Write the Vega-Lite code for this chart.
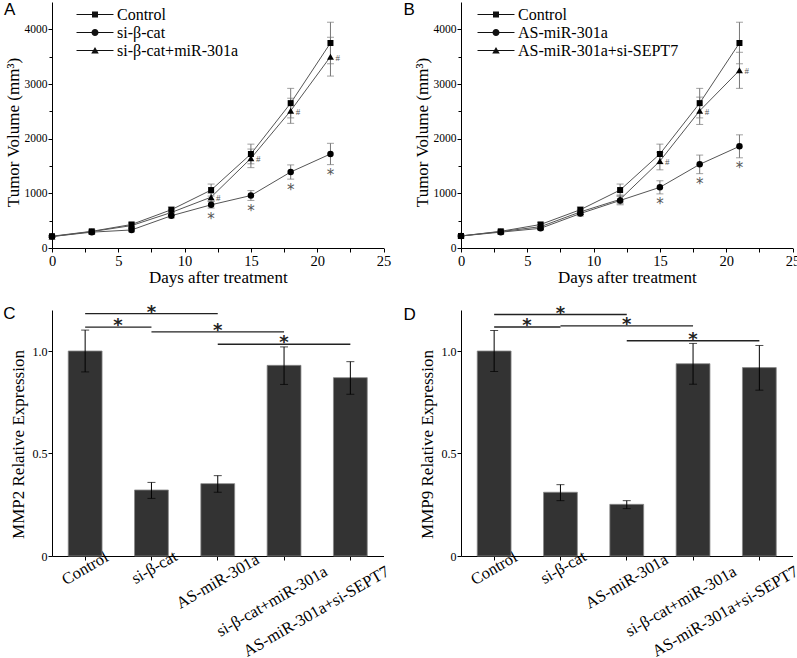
{
  "$schema": "https://vega.github.io/schema/vega-lite/v6.json",
  "padding": {"left": 3, "top": 1, "right": 0, "bottom": 0},
  "background": "white",
  "bounds": "flush",
  "columns": 2,
  "spacing": {"row": 62, "column": 77},
  "resolve": {"scale": {"shape": "independent"}, "legend": {"shape": "independent"}},
  "datasets": {
    "lineA": [
      {"day": 0, "grp": "Control", "v": 215, "lo": 195, "hi": 235},
      {"day": 3, "grp": "Control", "v": 305, "lo": 280, "hi": 330},
      {"day": 6, "grp": "Control", "v": 430, "lo": 390, "hi": 470},
      {"day": 9, "grp": "Control", "v": 700, "lo": 650, "hi": 750},
      {"day": 12, "grp": "Control", "v": 1060, "lo": 950, "hi": 1170},
      {"day": 15, "grp": "Control", "v": 1720, "lo": 1540, "hi": 1900},
      {"day": 18, "grp": "Control", "v": 2650, "lo": 2380, "hi": 2920},
      {"day": 21, "grp": "Control", "v": 3750, "lo": 3370, "hi": 4130},
      {"day": 0, "grp": "si-β-cat", "v": 210, "lo": 195, "hi": 225},
      {"day": 3, "grp": "si-β-cat", "v": 290, "lo": 270, "hi": 310},
      {"day": 6, "grp": "si-β-cat", "v": 330, "lo": 295, "hi": 365},
      {"day": 9, "grp": "si-β-cat", "v": 590, "lo": 550, "hi": 630},
      {"day": 12, "grp": "si-β-cat", "v": 790, "lo": 730, "hi": 850, "star": true},
      {"day": 15, "grp": "si-β-cat", "v": 960, "lo": 870, "hi": 1050, "star": true},
      {"day": 18, "grp": "si-β-cat", "v": 1390, "lo": 1260, "hi": 1520, "star": true},
      {"day": 21, "grp": "si-β-cat", "v": 1720, "lo": 1525, "hi": 1915, "star": true},
      {"day": 0, "grp": "si-β-cat+miR-301a", "v": 210, "lo": 195, "hi": 225},
      {"day": 3, "grp": "si-β-cat+miR-301a", "v": 300, "lo": 275, "hi": 325},
      {"day": 6, "grp": "si-β-cat+miR-301a", "v": 410, "lo": 370, "hi": 450},
      {"day": 9, "grp": "si-β-cat+miR-301a", "v": 650, "lo": 600, "hi": 700},
      {"day": 12, "grp": "si-β-cat+miR-301a", "v": 930, "lo": 860, "hi": 1000, "hash": true},
      {"day": 15, "grp": "si-β-cat+miR-301a", "v": 1640, "lo": 1470, "hi": 1810, "hash": true},
      {"day": 18, "grp": "si-β-cat+miR-301a", "v": 2510, "lo": 2280, "hi": 2740, "hash": true},
      {"day": 21, "grp": "si-β-cat+miR-301a", "v": 3500, "lo": 3145, "hi": 3855, "hash": true}
    ],
    "lineB": [
      {"day": 0, "grp": "Control", "v": 220, "lo": 200, "hi": 240},
      {"day": 3, "grp": "Control", "v": 305, "lo": 280, "hi": 330},
      {"day": 6, "grp": "Control", "v": 430, "lo": 390, "hi": 470},
      {"day": 9, "grp": "Control", "v": 700, "lo": 650, "hi": 750},
      {"day": 12, "grp": "Control", "v": 1060, "lo": 950, "hi": 1170},
      {"day": 15, "grp": "Control", "v": 1720, "lo": 1540, "hi": 1900},
      {"day": 18, "grp": "Control", "v": 2650, "lo": 2380, "hi": 2920},
      {"day": 21, "grp": "Control", "v": 3750, "lo": 3370, "hi": 4130},
      {"day": 0, "grp": "AS-miR-301a", "v": 220, "lo": 205, "hi": 235},
      {"day": 3, "grp": "AS-miR-301a", "v": 290, "lo": 270, "hi": 310},
      {"day": 6, "grp": "AS-miR-301a", "v": 360, "lo": 325, "hi": 395},
      {"day": 9, "grp": "AS-miR-301a", "v": 630, "lo": 585, "hi": 675},
      {"day": 12, "grp": "AS-miR-301a", "v": 870, "lo": 790, "hi": 950},
      {"day": 15, "grp": "AS-miR-301a", "v": 1110, "lo": 990, "hi": 1230, "star": true},
      {"day": 18, "grp": "AS-miR-301a", "v": 1530, "lo": 1360, "hi": 1700, "star": true},
      {"day": 21, "grp": "AS-miR-301a", "v": 1860, "lo": 1650, "hi": 2070, "star": true},
      {"day": 0, "grp": "AS-miR-301a+si-SEPT7", "v": 220, "lo": 205, "hi": 235},
      {"day": 3, "grp": "AS-miR-301a+si-SEPT7", "v": 300, "lo": 275, "hi": 325},
      {"day": 6, "grp": "AS-miR-301a+si-SEPT7", "v": 390, "lo": 350, "hi": 430},
      {"day": 9, "grp": "AS-miR-301a+si-SEPT7", "v": 660, "lo": 610, "hi": 710},
      {"day": 12, "grp": "AS-miR-301a+si-SEPT7", "v": 890, "lo": 810, "hi": 970},
      {"day": 15, "grp": "AS-miR-301a+si-SEPT7", "v": 1590, "lo": 1430, "hi": 1750, "hash": true},
      {"day": 18, "grp": "AS-miR-301a+si-SEPT7", "v": 2510, "lo": 2260, "hi": 2760, "hash": true},
      {"day": 21, "grp": "AS-miR-301a+si-SEPT7", "v": 3250, "lo": 2920, "hi": 3580, "hash": true}
    ],
    "barC": [
      {"g": "Control", "v": 1.0, "lo": 0.898, "hi": 1.102},
      {"g": "si-β-cat", "v": 0.322, "lo": 0.281, "hi": 0.359},
      {"g": "AS-miR-301a", "v": 0.353, "lo": 0.311, "hi": 0.392},
      {"g": "si-β-cat+miR-301a", "v": 0.93, "lo": 0.837, "hi": 1.02},
      {"g": "AS-miR-301a+si-SEPT7", "v": 0.87, "lo": 0.789, "hi": 0.948}
    ],
    "barD": [
      {"g": "Control", "v": 1.0, "lo": 0.9, "hi": 1.1},
      {"g": "si-β-cat", "v": 0.311, "lo": 0.27, "hi": 0.348},
      {"g": "AS-miR-301a", "v": 0.252, "lo": 0.231, "hi": 0.27},
      {"g": "si-β-cat+miR-301a", "v": 0.938, "lo": 0.838, "hi": 1.037},
      {"g": "AS-miR-301a+si-SEPT7", "v": 0.919, "lo": 0.809, "hi": 1.027}
    ],
    "sigC": [
      {"a": "Control", "b": "AS-miR-301a", "y": 1.182, "mid": "si-β-cat"},
      {"a": "Control", "b": "si-β-cat", "y": 1.116},
      {"a": "si-β-cat", "b": "si-β-cat+miR-301a", "y": 1.093, "mid": "AS-miR-301a"},
      {"a": "AS-miR-301a", "b": "AS-miR-301a+si-SEPT7", "y": 1.033, "mid": "si-β-cat+miR-301a"}
    ],
    "sigD": [
      {"a": "Control", "b": "AS-miR-301a", "y": 1.178, "mid": "si-β-cat"},
      {"a": "Control", "b": "si-β-cat", "y": 1.117},
      {"a": "si-β-cat", "b": "si-β-cat+miR-301a", "y": 1.123, "mid": "AS-miR-301a"},
      {"a": "AS-miR-301a", "b": "AS-miR-301a+si-SEPT7", "y": 1.05, "mid": "si-β-cat+miR-301a"}
    ]
  },
  "concat": [
    {
      "width": 331.5,
      "height": 246,
      "title": {"text": "A", "anchor": "start", "frame": "group", "orient": "top", "offset": -30.3, "baseline": "alphabetic", "dx": -48, "font": "Liberation Sans", "fontSize": 17, "fontWeight": "normal", "color": "black"},
      "data": {"name": "lineA"},
      "encoding": {
        "x": {"field": "day", "type": "quantitative", "title": "Days after treatment", "scale": {"domain": [0, 25], "nice": false},
          "axis": {"values": [0, 2.5, 5, 7.5, 10, 12.5, 15, 17.5, 20, 22.5, 25], "labelExpr": "datum.value % 5 === 0 ? datum.label : ''", "tickSize": 4, "labelFont": "Liberation Serif", "labelFontSize": 14.5, "labelPadding": 2, "labelFlush": false, "titleFontSize": 17, "titlePadding": 1.5}},
        "y": {"field": "v", "type": "quantitative", "title": "Tumor Volume (mm³)", "scale": {"domain": [0, 4500], "nice": false},
          "axis": {"values": [0, 500, 1000, 1500, 2000, 2500, 3000, 3500, 4000], "format": "d", "labelExpr": "datum.value % 1000 === 0 ? datum.label : ''", "tickSize": {"condition": {"test": "datum.value % 1000 === 0", "value": 4}, "value": 3}, "labelFont": "Liberation Serif", "labelFontSize": 11.5, "labelPadding": 1, "labelFlush": false, "titleFontSize": 17, "titlePadding": 2, "titleY": 130}}
      },
      "layer": [
        {"mark": {"type": "line", "color": "#555", "strokeWidth": 1}, "encoding": {"detail": {"field": "grp"}}},
        {"mark": {"type": "errorbar", "color": "#777", "ticks": {"size": 7, "color": "#777"}},
          "encoding": {"y": {"field": "lo", "type": "quantitative", "title": "Tumor Volume (mm³)"}, "y2": {"field": "hi"}, "detail": {"field": "grp"}}},
        {"transform": [{"filter": "datum.grp === 'Control'"}], "mark": {"type": "point", "shape": "square", "filled": true, "color": "black", "opacity": 1, "size": 36}},
        {"transform": [{"filter": "datum.grp === 'si-β-cat'"}], "mark": {"type": "point", "shape": "circle", "filled": true, "color": "black", "opacity": 1, "size": 42}},
        {"transform": [{"filter": "datum.grp === 'si-β-cat+miR-301a'"}], "mark": {"type": "point", "shape": "triangle-up", "filled": true, "color": "black", "opacity": 1, "size": 48}},
        {"transform": [{"filter": "false"}], "mark": {"type": "point", "filled": true, "color": "#111", "opacity": 1},
          "encoding": {"shape": {"field": "grp", "type": "nominal",
            "scale": {"domain": ["Control", "si-β-cat", "si-β-cat+miR-301a"], "range": ["M-2.31,-0.06H2.31V0.06H-2.31ZM-0.375,-0.375H0.375V0.375H-0.375Z", "M-2.31,-0.06H2.31V0.06H-2.31ZM-0.44,0A0.44,0.44,0,1,1,0.44,0A0.44,0.44,0,1,1,-0.44,0Z", "M-2.31,-0.06H2.31V0.06H-2.31ZM0,-0.44L0.47,0.375L-0.47,0.375Z"]},
            "legend": {"orient": "none", "legendX": 25, "legendY": 4.5, "title": null, "padding": 0, "labelFont": "Liberation Serif", "labelFontSize": 16, "labelColor": "black", "labelOffset": 14, "symbolOffset": 10, "labelLimit": 400, "rowPadding": 2, "symbolSize": 256, "symbolStrokeWidth": 0, "symbolFillColor": "#111", "symbolOpacity": 1}}}},
        {"transform": [{"filter": "datum.star"}], "mark": {"type": "text", "text": "*", "font": "DejaVu Sans", "fontSize": 15, "color": "#555", "baseline": "middle", "dy": 10.5},
          "encoding": {"y": {"field": "lo", "type": "quantitative", "title": "Tumor Volume (mm³)"}}},
        {"transform": [{"filter": "datum.hash"}], "mark": {"type": "text", "text": "#", "font": "Liberation Serif", "fontSize": 9, "color": "#555", "baseline": "middle", "align": "left", "dx": 5, "dy": 1}}
      ]
    },
    {
      "width": 331.5,
      "height": 246,
      "title": {"text": "B", "anchor": "start", "frame": "group", "orient": "top", "offset": -30.3, "baseline": "alphabetic", "dx": -57.6, "font": "Liberation Sans", "fontSize": 17, "fontWeight": "normal", "color": "black"},
      "data": {"name": "lineB"},
      "encoding": {
        "x": {"field": "day", "type": "quantitative", "title": "Days after treatment", "scale": {"domain": [0, 25], "nice": false},
          "axis": {"values": [0, 2.5, 5, 7.5, 10, 12.5, 15, 17.5, 20, 22.5, 25], "labelExpr": "datum.value % 5 === 0 ? datum.label : ''", "tickSize": 4, "labelFont": "Liberation Serif", "labelFontSize": 14.5, "labelPadding": 2, "labelFlush": false, "titleFontSize": 17, "titlePadding": 1.5}},
        "y": {"field": "v", "type": "quantitative", "title": "Tumor Volume (mm³)", "scale": {"domain": [0, 4500], "nice": false},
          "axis": {"values": [0, 500, 1000, 1500, 2000, 2500, 3000, 3500, 4000], "format": "d", "labelExpr": "datum.value % 1000 === 0 ? datum.label : ''", "tickSize": {"condition": {"test": "datum.value % 1000 === 0", "value": 4}, "value": 3}, "labelFont": "Liberation Serif", "labelFontSize": 11.5, "labelPadding": 1, "labelFlush": false, "titleFontSize": 17, "titlePadding": 2, "titleY": 130}}
      },
      "layer": [
        {"mark": {"type": "line", "color": "#555", "strokeWidth": 1}, "encoding": {"detail": {"field": "grp"}}},
        {"mark": {"type": "errorbar", "color": "#777", "ticks": {"size": 7, "color": "#777"}},
          "encoding": {"y": {"field": "lo", "type": "quantitative", "title": "Tumor Volume (mm³)"}, "y2": {"field": "hi"}, "detail": {"field": "grp"}}},
        {"transform": [{"filter": "datum.grp === 'Control'"}], "mark": {"type": "point", "shape": "square", "filled": true, "color": "black", "opacity": 1, "size": 36}},
        {"transform": [{"filter": "datum.grp === 'AS-miR-301a'"}], "mark": {"type": "point", "shape": "circle", "filled": true, "color": "black", "opacity": 1, "size": 42}},
        {"transform": [{"filter": "datum.grp === 'AS-miR-301a+si-SEPT7'"}], "mark": {"type": "point", "shape": "triangle-up", "filled": true, "color": "black", "opacity": 1, "size": 48}},
        {"transform": [{"filter": "false"}], "mark": {"type": "point", "filled": true, "color": "#111", "opacity": 1},
          "encoding": {"shape": {"field": "grp", "type": "nominal",
            "scale": {"domain": ["Control", "AS-miR-301a", "AS-miR-301a+si-SEPT7"], "range": ["M-2.31,-0.06H2.31V0.06H-2.31ZM-0.375,-0.375H0.375V0.375H-0.375Z", "M-2.31,-0.06H2.31V0.06H-2.31ZM-0.44,0A0.44,0.44,0,1,1,0.44,0A0.44,0.44,0,1,1,-0.44,0Z", "M-2.31,-0.06H2.31V0.06H-2.31ZM0,-0.44L0.47,0.375L-0.47,0.375Z"]},
            "legend": {"orient": "none", "legendX": 17, "legendY": 4.5, "title": null, "padding": 0, "labelFont": "Liberation Serif", "labelFontSize": 16, "labelColor": "black", "labelOffset": 14, "symbolOffset": 10, "labelLimit": 400, "rowPadding": 2, "symbolSize": 256, "symbolStrokeWidth": 0, "symbolFillColor": "#111", "symbolOpacity": 1}}}},
        {"transform": [{"filter": "datum.star"}], "mark": {"type": "text", "text": "*", "font": "DejaVu Sans", "fontSize": 15, "color": "#555", "baseline": "middle", "dy": 10.5},
          "encoding": {"y": {"field": "lo", "type": "quantitative", "title": "Tumor Volume (mm³)"}}},
        {"transform": [{"filter": "datum.hash"}], "mark": {"type": "text", "text": "#", "font": "Liberation Serif", "fontSize": 9, "color": "#555", "baseline": "middle", "align": "left", "dx": 5, "dy": 1}}
      ]
    },
    {
      "width": 331.5,
      "height": 246,
      "title": {"text": "C", "anchor": "start", "frame": "group", "orient": "top", "offset": -32, "baseline": "alphabetic", "dx": -48.7, "font": "Liberation Sans", "fontSize": 17, "fontWeight": "normal", "color": "black"},
      "encoding": {
        "x": {"field": "g", "type": "nominal", "title": null,
          "scale": {"domain": ["Control", "si-β-cat", "AS-miR-301a", "si-β-cat+miR-301a", "AS-miR-301a+si-SEPT7"], "paddingInner": 0.49, "paddingOuter": 0.245},
          "axis": {"labelAngle": -30, "labelAlign": "center", "labelBaseline": "middle", "tickSize": 4, "labelFont": "Liberation Serif", "labelFontSize": 16.5, "labelLimit": 400,
            "labelOffset": {"condition": [{"test": "datum.value === 'si-β-cat'", "value": 3}, {"test": "datum.value === 'AS-miR-301a'", "value": 0}, {"test": "datum.value === 'si-β-cat+miR-301a'", "value": -12}, {"test": "datum.value === 'AS-miR-301a+si-SEPT7'", "value": -34}], "value": 0},
            "labelPadding": {"condition": [{"test": "datum.value === 'si-β-cat'", "value": 7}, {"test": "datum.value === 'AS-miR-301a'", "value": 21}, {"test": "datum.value === 'si-β-cat+miR-301a'", "value": 41}, {"test": "datum.value === 'AS-miR-301a+si-SEPT7'", "value": 51}], "value": 8}}},
        "y": {"field": "v", "type": "quantitative", "title": "MMP2 Relative Expression", "scale": {"domain": [0, 1.2], "nice": false},
          "axis": {"values": [0, 0.5, 1], "labelExpr": "datum.value === 0 ? '0' : format(datum.value, '.1f')", "tickSize": 4, "labelFont": "Liberation Serif", "labelFontSize": 12, "labelPadding": 1, "titleFontSize": 17, "titlePadding": 5, "titleY": 134}}
      },
      "layer": [
        {"data": {"name": "barC"}, "mark": {"type": "bar", "color": "#333", "stroke": "#888", "strokeWidth": 0.8}},
        {"data": {"name": "barC"}, "mark": {"type": "errorbar", "color": "black", "ticks": {"size": 8, "color": "black"}},
          "encoding": {"y": {"field": "lo", "type": "quantitative", "title": "MMP2 Relative Expression"}, "y2": {"field": "hi"}}},
        {"data": {"name": "sigC"}, "mark": {"type": "rule", "color": "#222", "strokeWidth": 1.3},
          "encoding": {"x": {"field": "a", "type": "nominal", "title": null}, "x2": {"field": "b"}, "y": {"field": "y", "type": "quantitative", "title": "MMP2 Relative Expression"}}},
        {"data": {"name": "sigC"}, "transform": [{"filter": "datum.mid"}], "mark": {"type": "text", "text": "*", "font": "DejaVu Sans", "fontWeight": "bold", "fontSize": 18, "color": "#222", "baseline": "middle", "dy": -1},
          "encoding": {"x": {"field": "mid", "type": "nominal", "title": null}, "y": {"field": "y", "type": "quantitative", "title": "MMP2 Relative Expression"}}},
        {"data": {"name": "sigC"}, "transform": [{"filter": "!datum.mid"}], "mark": {"type": "text", "text": "*", "font": "DejaVu Sans", "fontWeight": "bold", "fontSize": 18, "color": "#222", "baseline": "middle", "dy": -1},
          "encoding": {"x": {"field": "a", "type": "nominal", "title": null, "bandPosition": 1.47}, "y": {"field": "y", "type": "quantitative", "title": "MMP2 Relative Expression"}}}
      ]
    },
    {
      "width": 331.5,
      "height": 246,
      "title": {"text": "D", "anchor": "start", "frame": "group", "orient": "top", "offset": -32, "baseline": "alphabetic", "dx": -57.6, "font": "Liberation Sans", "fontSize": 17, "fontWeight": "normal", "color": "black"},
      "encoding": {
        "x": {"field": "g", "type": "nominal", "title": null,
          "scale": {"domain": ["Control", "si-β-cat", "AS-miR-301a", "si-β-cat+miR-301a", "AS-miR-301a+si-SEPT7"], "paddingInner": 0.49, "paddingOuter": 0.245},
          "axis": {"labelAngle": -30, "labelAlign": "center", "labelBaseline": "middle", "tickSize": 4, "labelFont": "Liberation Serif", "labelFontSize": 16.5, "labelLimit": 400,
            "labelOffset": {"condition": [{"test": "datum.value === 'si-β-cat'", "value": 3}, {"test": "datum.value === 'AS-miR-301a'", "value": 0}, {"test": "datum.value === 'si-β-cat+miR-301a'", "value": -12}, {"test": "datum.value === 'AS-miR-301a+si-SEPT7'", "value": -34}], "value": 0},
            "labelPadding": {"condition": [{"test": "datum.value === 'si-β-cat'", "value": 7}, {"test": "datum.value === 'AS-miR-301a'", "value": 21}, {"test": "datum.value === 'si-β-cat+miR-301a'", "value": 41}, {"test": "datum.value === 'AS-miR-301a+si-SEPT7'", "value": 51}], "value": 8}}},
        "y": {"field": "v", "type": "quantitative", "title": "MMP9 Relative Expression", "scale": {"domain": [0, 1.2], "nice": false},
          "axis": {"values": [0, 0.5, 1], "labelExpr": "datum.value === 0 ? '0' : format(datum.value, '.1f')", "tickSize": 4, "labelFont": "Liberation Serif", "labelFontSize": 12, "labelPadding": 1, "titleFontSize": 17, "titlePadding": 5, "titleY": 134}}
      },
      "layer": [
        {"data": {"name": "barD"}, "mark": {"type": "bar", "color": "#333", "stroke": "#888", "strokeWidth": 0.8}},
        {"data": {"name": "barD"}, "mark": {"type": "errorbar", "color": "black", "ticks": {"size": 8, "color": "black"}},
          "encoding": {"y": {"field": "lo", "type": "quantitative", "title": "MMP9 Relative Expression"}, "y2": {"field": "hi"}}},
        {"data": {"name": "sigD"}, "mark": {"type": "rule", "color": "#222", "strokeWidth": 1.3},
          "encoding": {"x": {"field": "a", "type": "nominal", "title": null}, "x2": {"field": "b"}, "y": {"field": "y", "type": "quantitative", "title": "MMP9 Relative Expression"}}},
        {"data": {"name": "sigD"}, "transform": [{"filter": "datum.mid"}], "mark": {"type": "text", "text": "*", "font": "DejaVu Sans", "fontWeight": "bold", "fontSize": 18, "color": "#222", "baseline": "middle", "dy": -1},
          "encoding": {"x": {"field": "mid", "type": "nominal", "title": null}, "y": {"field": "y", "type": "quantitative", "title": "MMP9 Relative Expression"}}},
        {"data": {"name": "sigD"}, "transform": [{"filter": "!datum.mid"}], "mark": {"type": "text", "text": "*", "font": "DejaVu Sans", "fontWeight": "bold", "fontSize": 18, "color": "#222", "baseline": "middle", "dy": -1},
          "encoding": {"x": {"field": "a", "type": "nominal", "title": null, "bandPosition": 1.47}, "y": {"field": "y", "type": "quantitative", "title": "MMP9 Relative Expression"}}}
      ]
    }
  ],
  "config": {
    "view": {"stroke": null},
    "font": "Liberation Serif",
    "axis": {"domainColor": "black", "tickColor": "black", "labelColor": "black", "titleColor": "black", "labelFont": "Liberation Serif", "titleFont": "Liberation Serif", "titleFontWeight": "normal", "grid": false, "labelOverlap": false, "domainWidth": 1, "tickWidth": 1}
  }
}
